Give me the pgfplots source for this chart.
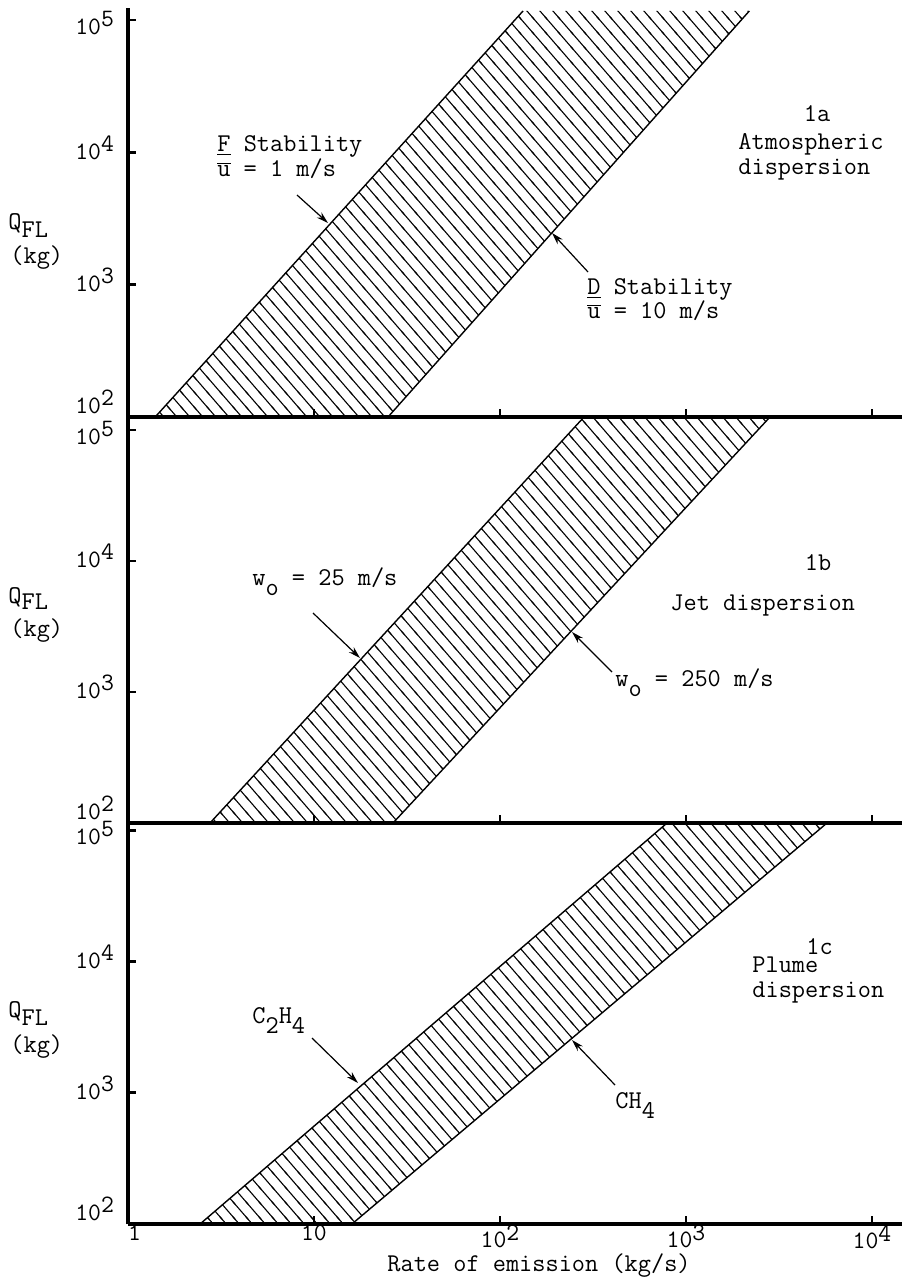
\documentclass[border=0pt]{standalone}
\usepackage{pgfplots}
\pgfplotsset{compat=1.18}
\usetikzlibrary{patterns,arrows.meta}

\pgfdeclarepatternformonly{myhatch}{\pgfqpoint{-1pt}{-1pt}}{\pgfqpoint{7.5pt}{8.5pt}}{\pgfqpoint{6.5pt}{7.5pt}}{%
  \pgfsetlinewidth{0.55pt}%
  \pgfpathmoveto{\pgfqpoint{-0.65pt}{8.25pt}}%
  \pgfpathlineto{\pgfqpoint{7.15pt}{-0.75pt}}%
  \pgfusepath{stroke}%
}

\newcommand{\sups}[1]{\raisebox{4pt}{#1}}
\newcommand{\xsups}[1]{\raisebox{3.5pt}{#1}}
\newcommand{\subs}[1]{\raisebox{-5pt}{#1}}
\newcommand{\ubar}{$\overline{\mbox{u}}$}
\newcommand{\tkfont}{\ttfamily\fontsize{12.5}{14}\selectfont}

\begin{document}
\begin{tikzpicture}
\path[use as bounding box] (0,0) rectangle (454pt,-639pt);

% Panel 1a
\begin{axis}[xmode=log, ymode=log, scale only axis, width=387pt, height=204.5pt,
  xmin=1, xmax=14500, ymin=100, ymax=1.233e5,
  at={(64pt,-208.5pt)}, anchor=south west,
  axis x line*=bottom, axis y line*=left,
  axis line style={line width=1.6pt, black},
  tick align=inside, major tick length=4pt,
  major tick style={line width=1.4pt, black},
  xminorticks=false, yminorticks=false,
  xtick={10,100,1000,10000}, ytick={100,1000,10000,100000},
  xticklabels={},
  yticklabels={{\raisebox{5pt}{10\sups{2}}}, {10\sups{3}}, {10\sups{4}}, {\raisebox{-4pt}{10\sups{5}}}},
  yticklabel style={anchor=base east, yshift=-3.4pt, xshift=-3.5pt, font=\tkfont}]
\addplot[draw=none, pattern=myhatch, pattern color=black] coordinates {(1.40,100) (133,1.17e5) (2190,1.17e5) (25,100)};
\addplot[black, line width=0.7pt] coordinates {(1.40,100) (133,1.17e5)};
\addplot[black, line width=0.7pt] coordinates {(25,100) (2190,1.17e5)};
\end{axis}

% Panel 1b
\begin{axis}[xmode=log, ymode=log, scale only axis, width=387pt, height=203pt,
  xmin=1, xmax=14500, ymin=100, ymax=1.256e5,
  at={(64pt,-411.5pt)}, anchor=south west,
  axis x line*=bottom, axis y line*=left,
  axis line style={line width=1.6pt, black},
  tick align=inside, major tick length=4pt,
  major tick style={line width=1.4pt, black},
  xminorticks=false, yminorticks=false,
  xtick={10,100,1000,10000}, ytick={100,1000,10000,100000},
  xticklabels={},
  yticklabels={{\raisebox{5pt}{10\sups{2}}}, {10\sups{3}}, {10\sups{4}}, {\raisebox{-4pt}{10\sups{5}}}},
  yticklabel style={anchor=base east, yshift=-3.4pt, xshift=-3.5pt, font=\tkfont}]
\addplot[draw=none, pattern=myhatch, pattern color=black] coordinates {(2.76,100) (283,1.256e5) (2830,1.256e5) (26.6,100)};
\addplot[black, line width=0.7pt] coordinates {(2.76,100) (283,1.256e5)};
\addplot[black, line width=0.7pt] coordinates {(26.6,100) (2830,1.256e5)};
\end{axis}

% Panel 1c
\begin{axis}[xmode=log, ymode=log, scale only axis, width=387pt, height=200.5pt,
  xmin=1, xmax=14500, ymin=100, ymax=1.133e5,
  at={(64pt,-612pt)}, anchor=south west,
  axis x line*=bottom, axis y line*=left,
  axis line style={line width=1.6pt, black},
  tick align=inside, major tick length=4pt,
  major tick style={line width=1.4pt, black},
  xminorticks=false, yminorticks=false,
  xtick={1,10,100,1000,10000}, ytick={100,1000,10000,100000},
  xticklabels={{\phantom{1}1}, {10}, {10\xsups{2}}, {10\xsups{3}}, {10\xsups{4}}},
  xticklabel style={font=\tkfont, inner sep=0.5pt},
  yticklabels={{\raisebox{5pt}{10\sups{2}}}, {10\sups{3}}, {10\sups{4}}, {\raisebox{-4pt}{10\sups{5}}}},
  yticklabel style={anchor=base east, yshift=-3.4pt, xshift=-3.5pt, font=\tkfont}]
\addplot[draw=none, pattern=myhatch, pattern color=black] coordinates {(2.44,100) (791,1.133e5) (5730,1.133e5) (16,100)};
\addplot[black, line width=0.7pt] coordinates {(2.44,100) (791,1.133e5)};
\addplot[black, line width=0.7pt] coordinates {(16,100) (5730,1.133e5)};
\end{axis}

\begin{scope}[every node/.style={inner sep=0pt, font=\ttfamily\fontsize{12.8}{14}\selectfont},
  arr/.style={line width=0.6pt, -{Stealth[length=6pt,width=3.5pt]}}]
% panel 1
\node[anchor=base west] at (108.5pt,-76pt) {\underline{F} Stability};
\node[anchor=base west] at (108.5pt,-88.5pt) {\ubar{} = 1 m/s};
\draw[arr] (148.5pt,-97.5pt) -- (164pt,-111.5pt);
\node[anchor=base] at (408.5pt,-61pt) {1a};
\node[anchor=base west] at (369pt,-75pt) {Atmospheric};
\node[anchor=base west] at (369pt,-87.5pt) {dispersion};
\node[anchor=base west] at (293.5pt,-147.5pt) {\underline{D} Stability};
\node[anchor=base west] at (293.5pt,-159.5pt) {\ubar{} = 10 m/s};
\draw[arr] (294pt,-136pt) -- (276pt,-116.5pt);
\node[anchor=base west] at (4pt,-115pt) {Q\raisebox{-4pt}{FL}};
\node[anchor=base west] at (5pt,-132pt) {(kg)};
% panel 2
\node[anchor=base west] at (126pt,-292.5pt) {w\subs{o} = 25 m/s};
\draw[arr] (156.5pt,-306.5pt) -- (180pt,-329pt);
\node[anchor=base] at (409pt,-285pt) {1b};
\node[anchor=base west] at (335pt,-305pt) {Jet dispersion};
\node[anchor=base west] at (307.5pt,-343pt) {w\subs{o} = 250 m/s};
\draw[arr] (306pt,-336pt) -- (286pt,-316pt);
\node[anchor=base west] at (4pt,-301.5pt) {Q\raisebox{-3pt}{FL}};
\node[anchor=base west] at (5pt,-318pt) {(kg)};
% panel 3
\node[anchor=base west] at (126pt,-511.5pt) {C\subs{2}H\subs{4}};
\draw[arr] (156pt,-519pt) -- (179pt,-541.5pt);
\node[anchor=base west] at (307.5pt,-554pt) {CH\subs{4}};
\draw[arr] (307.5pt,-542.5pt) -- (286pt,-520pt);
\node[anchor=base west] at (376pt,-486pt) {Plume};
\node[anchor=base west] at (403pt,-477pt) {1c};
\node[anchor=base west] at (376pt,-498.5pt) {dispersion};
\node[anchor=base west] at (4pt,-508.5pt) {Q\raisebox{-4pt}{FL}};
\node[anchor=base west] at (5pt,-526pt) {(kg)};
% x label
\node[anchor=base west] at (193.5pt,-635.5pt) {Rate of emission (kg/s)};
\end{scope}
\end{tikzpicture}
\end{document}
